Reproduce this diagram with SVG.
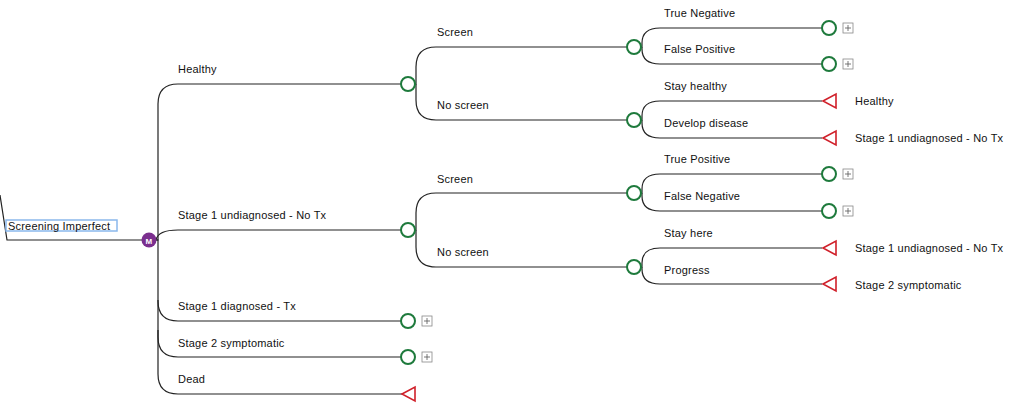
<svg xmlns="http://www.w3.org/2000/svg" width="1024" height="410" viewBox="0 0 1024 410">
<style>
.l{fill:none;stroke:#222;stroke-width:1.2}
.c{fill:#fff;stroke:#1e7a3c;stroke-width:2}
.t{fill:#fff;stroke:#d0202a;stroke-width:1.6}
.p{fill:#fff;stroke:#888;stroke-width:0.8}
.pp{stroke:#555;stroke-width:0.8}
text{font-family:"Liberation Sans",Arial,sans-serif;font-size:11px;fill:#111;letter-spacing:0.2px}
</style>
<defs>
<g id="plus"><rect class="p" x="-5" y="-5" width="10" height="10"/><path class="pp" d="M-3 0H3M0 -3V3"/></g>
</defs>
<g id="connectors">
<path class="l" d="M0 195 L7 240 L142 240"/>
<path class="l" d="M156 240 H158 V104 Q158 84 178 84 H401"/>
<path class="l" d="M156 240 Q158 230 178 230 H401"/>
<path class="l" d="M156 240 H158 V301 Q158 321 178 321 H401"/>
<path class="l" d="M158 300 V337 Q158 357 178 357 H401"/>
<path class="l" d="M158 330 V374 Q158 394 178 394 H402"/>
<path class="l" d="M415 84 H416 V67 Q416 47 436 47 H627"/>
<path class="l" d="M416 84 V100 Q416 120 436 120 H627"/>
<path class="l" d="M415 230 H416 V213 Q416 193 436 193 H627"/>
<path class="l" d="M416 230 V247 Q416 267 436 267 H627"/>
<path class="l" d="M641 47 H642 V43 Q642 28 660 28 H822"/>
<path class="l" d="M642 47 V49 Q642 64 660 64 H822"/>
<path class="l" d="M641 120 H642 V116 Q642 101 660 101 H822"/>
<path class="l" d="M642 120 V123 Q642 138 660 138 H822"/>
<path class="l" d="M641 193 H642 V189 Q642 174 660 174 H822"/>
<path class="l" d="M642 193 V196 Q642 211 660 211 H822"/>
<path class="l" d="M641 267 H642 V263 Q642 248 660 248 H822"/>
<path class="l" d="M642 267 V269 Q642 284 660 284 H822"/>
</g>
<g id="root"><rect x="6" y="220" width="111" height="11" fill="#fff" stroke="#8ab8ec" stroke-width="1.5"/><text x="8" y="229.5">Screening Imperfect</text></g>
<g id="markov"><circle cx="149" cy="240" r="7.5" fill="#7b2f8e"/><text x="149" y="243.5" text-anchor="middle" style="font-size:8px;font-weight:bold;fill:#fff">M</text></g>
<g id="labels">
<text x="178" y="73">Healthy</text>
<text x="178" y="219">Stage 1 undiagnosed - No Tx</text>
<text x="178" y="310">Stage 1 diagnosed - Tx</text>
<text x="178" y="347">Stage 2 symptomatic</text>
<text x="178" y="383">Dead</text>
<text x="437" y="36">Screen</text>
<text x="437" y="109">No screen</text>
<text x="437" y="183">Screen</text>
<text x="437" y="256">No screen</text>
<text x="664" y="17">True Negative</text>
<text x="664" y="53">False Positive</text>
<text x="664" y="90">Stay healthy</text>
<text x="664" y="127">Develop disease</text>
<text x="664" y="163">True Positive</text>
<text x="664" y="200">False Negative</text>
<text x="664" y="237">Stay here</text>
<text x="664" y="274">Progress</text>
<text x="855" y="105">Healthy</text>
<text x="855" y="142">Stage 1 undiagnosed - No Tx</text>
<text x="855" y="252">Stage 1 undiagnosed - No Tx</text>
<text x="855" y="289">Stage 2 symptomatic</text>
</g>
<g id="chance-nodes">
<circle class="c" cx="408" cy="84" r="7"/>
<circle class="c" cx="408" cy="230" r="7"/>
<circle class="c" cx="408" cy="321" r="7"/>
<circle class="c" cx="408" cy="357" r="7"/>
<circle class="c" cx="634" cy="47" r="7"/>
<circle class="c" cx="634" cy="120" r="7"/>
<circle class="c" cx="634" cy="193" r="7"/>
<circle class="c" cx="634" cy="267" r="7"/>
<circle class="c" cx="829" cy="28" r="7"/>
<circle class="c" cx="829" cy="64" r="7"/>
<circle class="c" cx="829" cy="174" r="7"/>
<circle class="c" cx="829" cy="211" r="7"/>
</g>
<g id="plus-boxes">
<use href="#plus" x="427" y="321"/>
<use href="#plus" x="427" y="357"/>
<use href="#plus" x="848" y="28"/>
<use href="#plus" x="848" y="64"/>
<use href="#plus" x="848" y="174"/>
<use href="#plus" x="848" y="211"/>
</g>
<g id="terminals">
<path class="t" d="M402 394 L415 387 L415 401 Z"/>
<path class="t" d="M823 101 L836 94 L836 108 Z"/>
<path class="t" d="M823 138 L836 131 L836 145 Z"/>
<path class="t" d="M823 248 L836 241 L836 255 Z"/>
<path class="t" d="M823 284 L836 277 L836 291 Z"/>
</g>
</svg>
